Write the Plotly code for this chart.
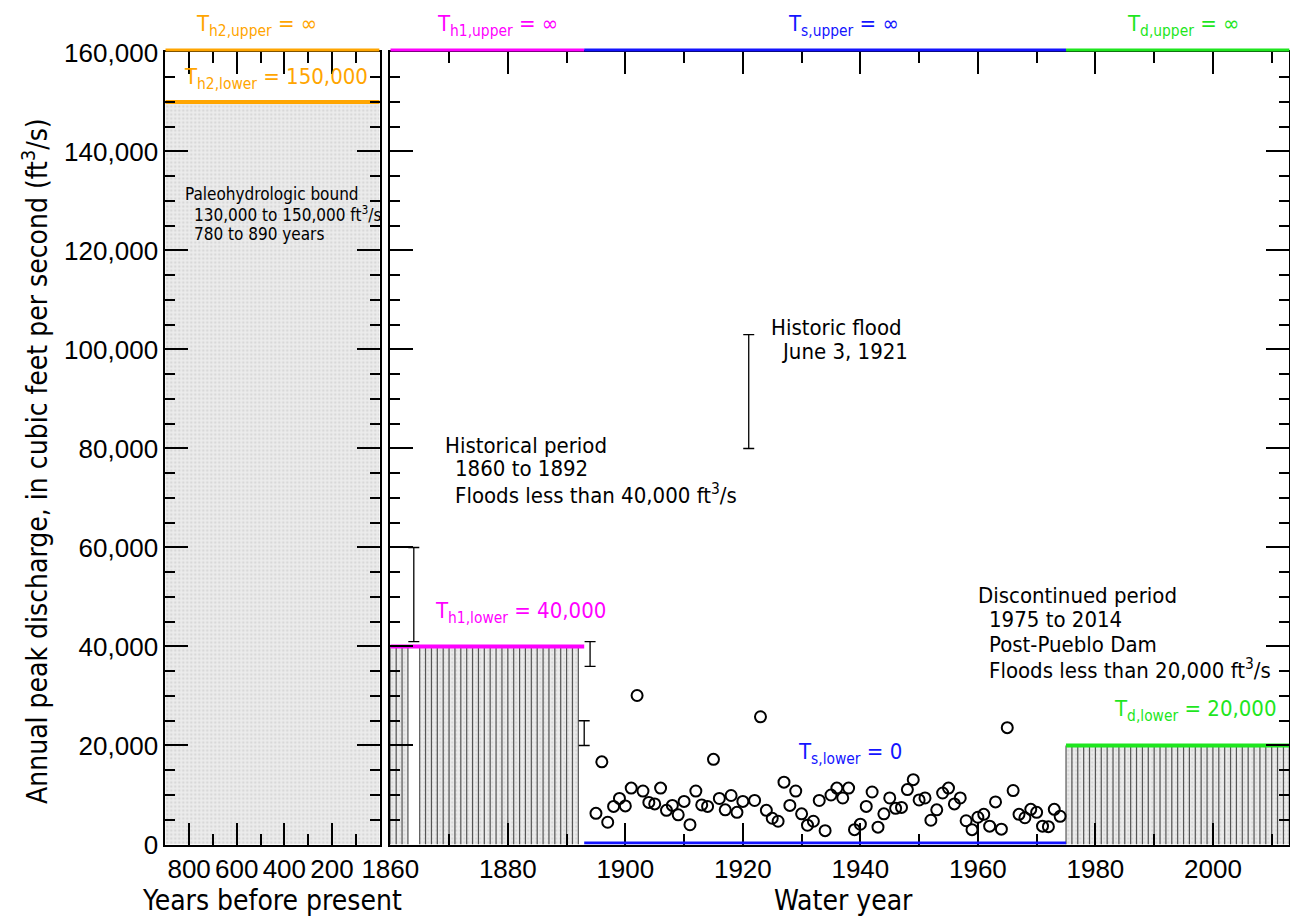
import plotly.graph_objects as go

# ---------------------------------------------------------------- data
# Systematic record, annual peak discharge (ft3/s), water years 1895-1974
systematic_years = [y for y in range(1895, 1975) if y != 1921]
systematic_peaks = [
    6300, 16700, 4500, 7700, 9300, 7800, 11400, 30100, 10800, 8500,      # 1895-1904
    8200, 11400, 6900, 7900, 6000, 8700, 4000, 10800, 8000, 7700,        # 1905-1914
    17200, 9300, 7000, 9900, 6500, 8700,                                 # 1915-1920
    8900, 25800, 6900, 5300, 4700, 12600, 7900, 10800,                   # 1922-1929
    6200, 3900, 4700, 8900, 2800, 10000, 11400, 9400, 11400, 3000,       # 1930-1939
    4100, 7700, 10600, 3500, 6200, 9400, 7300, 7500, 11100, 13100,       # 1940-1949
    9000, 9400, 4900, 7000, 10400, 11400, 8200, 9400, 4800, 3000,        # 1950-1959
    5500, 6100, 3700, 8600, 3100, 23600, 10900, 6100, 5400, 7100,        # 1960-1969
    6500, 3700, 3600, 7100, 5700,                                        # 1970-1974
]

# Interval (lower, upper) estimates, ft3/s
interval_years = [1864, 1893, 1894, 1921]
interval_lower = [41000, 20000, 36000, 80000]
interval_upper = [60000, 25000, 41000, 103000]

# Perception thresholds, ft3/s
th2_lower = 150000            # paleohydrologic period
th1_lower = 40000             # historical period 1860-1892
ts_lower = 0                  # systematic period
td_lower = 20000              # discontinued period 1975-2014
y_top = 160000

# Period limits (water year)
historical_span = (1860, 1893)
historical_years = [y for y in range(1860, 1893) if y not in interval_years]
systematic_span = (1893, 1975)
discontinued_span = (1975, 2014)
discontinued_years = list(range(1975, 2015))

paleo_span = (900, 0)         # years before present

# ---------------------------------------------------------------- style
TICK_FONT = "Liberation Sans, Arial, sans-serif"
TEXT_FONT = "DejaVu Sans Condensed, DejaVu Sans, sans-serif"
ORANGE = "#FFA500"
MAGENTA = "#FF00FF"
BLUE = "#1414FF"
GREEN = "#1EE61E"
HATCH = "#555555"
STIPPLE = dict(shape=".", size=4, solidity=0.35, fgcolor="#c4c4c4", bgcolor="#ececec")
YDOM = [0.07906, 0.94275]

fig = go.Figure()


def runs(years):
    """Split a sorted list of years into contiguous runs."""
    out, cur = [], [years[0]]
    for y in years[1:]:
        if y == cur[-1] + 1:
            cur.append(y)
        else:
            out.append(cur)
            cur = [y]
    out.append(cur)
    return out


def censored_block(years, threshold, xa, ya):
    # stippled fill between consecutive censored years
    for r in runs(years):
        fig.add_trace(go.Scatter(
            x=[r[0], r[-1], r[-1], r[0]], y=[0, 0, threshold, threshold],
            fill="toself", fillpattern=STIPPLE, mode="lines",
            line=dict(width=0), xaxis=xa, yaxis=ya, showlegend=False, hoverinfo="skip"))
    # one vertical line per censored year
    xs, ys = [], []
    for y in years:
        xs += [y, y, None]
        ys += [0, threshold, None]
    fig.add_trace(go.Scatter(x=xs, y=ys, mode="lines", line=dict(color=HATCH, width=1.2),
                             xaxis=xa, yaxis=ya, showlegend=False, hoverinfo="skip"))


# paleohydrologic panel fill
fig.add_trace(go.Scatter(
    x=[paleo_span[0], paleo_span[1], paleo_span[1], paleo_span[0]],
    y=[0, 0, th2_lower, th2_lower], fill="toself", fillpattern=STIPPLE,
    mode="lines", line=dict(width=0), xaxis="x", yaxis="y",
    showlegend=False, hoverinfo="skip"))

# historical and discontinued censored years
censored_block(historical_years, th1_lower, "x2", "y2")
censored_block(discontinued_years, td_lower, "x2", "y2")

# lower thresholds
fig.add_trace(go.Scatter(x=list(paleo_span), y=[th2_lower, th2_lower], mode="lines",
                         line=dict(color=ORANGE, width=4), xaxis="x", yaxis="y",
                         showlegend=False, hoverinfo="skip"))
fig.add_trace(go.Scatter(x=list(historical_span), y=[th1_lower, th1_lower], mode="lines",
                         line=dict(color=MAGENTA, width=4), xaxis="x2", yaxis="y2",
                         showlegend=False, hoverinfo="skip"))
fig.add_trace(go.Scatter(x=list(discontinued_span), y=[td_lower, td_lower], mode="lines",
                         line=dict(color=GREEN, width=4), xaxis="x2", yaxis="y2",
                         showlegend=False, hoverinfo="skip"))


# upper thresholds (infinite) run just above the top frame
def top_line(xref, x0, x1, color):
    fig.add_shape(type="line", xref=xref, yref="paper", x0=x0, x1=x1,
                  ysizemode="pixel", yanchor=YDOM[1], y0=2.5, y1=2.5,
                  line=dict(color=color, width=3), layer="above")


top_line("x", paleo_span[0], paleo_span[1], ORANGE)
top_line("x2", historical_span[0], historical_span[1], MAGENTA)
top_line("x2", systematic_span[0], systematic_span[1], BLUE)
top_line("x2", discontinued_span[0], discontinued_span[1], GREEN)

# Ts,lower along the bottom frame
fig.add_shape(type="line", xref="x2", yref="y2", x0=systematic_span[0], x1=systematic_span[1],
              ysizemode="pixel", yanchor=ts_lower, y0=1.5, y1=1.5,
              line=dict(color=BLUE, width=3), layer="above")

# interval estimates
mid = [(lo + hi) / 2 for lo, hi in zip(interval_lower, interval_upper)]
fig.add_trace(go.Scatter(
    x=interval_years, y=mid, mode="markers", marker=dict(size=1, opacity=0),
    error_y=dict(type="data", symmetric=False,
                 array=[hi - m for hi, m in zip(interval_upper, mid)],
                 arrayminus=[m - lo for lo, m in zip(interval_lower, mid)],
                 width=5.5, thickness=1.3, color="black"),
    xaxis="x2", yaxis="y2", showlegend=False, hoverinfo="skip"))

# systematic peaks
fig.add_trace(go.Scatter(
    x=systematic_years, y=systematic_peaks, mode="markers",
    marker=dict(symbol="circle-open", size=11, color="black", line=dict(width=2)),
    xaxis="x2", yaxis="y2", showlegend=False, cliponaxis=False))


# ---------------------------------------------------------------- text
def note(text, x, y, xref, yref, size=22, color="black"):
    fig.add_annotation(text=text, x=x, y=y, xref=xref, yref=yref,
                       xanchor="left", yanchor="middle", showarrow=False,
                       font=dict(family=TEXT_FONT, size=size, color=color))


FT3 = "ft<sup>3</sup>/s"
ABOVE = 1.0347  # label height above the top frame, in axis-domain units
TS = 22         # threshold label size

# threshold labels
note("T<sub>h2,upper</sub> = ∞", 778, ABOVE, "x", "y domain", TS, ORANGE)
note("T<sub>h2,lower</sub> = 150,000", 831, 154800, "x", "y", TS, ORANGE)
note("T<sub>h1,upper</sub> = ∞", 1867.6, ABOVE, "x2", "y2 domain", TS, MAGENTA)
note("T<sub>s,upper</sub> = ∞", 1927.3, ABOVE, "x2", "y2 domain", TS, BLUE)
note("T<sub>d,upper</sub> = ∞", 1985.0, ABOVE, "x2", "y2 domain", TS, GREEN)
note("T<sub>h1,lower</sub> = 40,000", 1867.3, 46800, "x2", "y2", TS, MAGENTA)
note("T<sub>s,lower</sub> = 0", 1929.0, 18300, "x2", "y2", TS, BLUE)
note("T<sub>d,lower</sub> = 20,000", 1982.9, 27000, "x2", "y2", TS, GREEN)

# period descriptions
note("Paleohydrologic bound", 827, 131400, "x", "y", 17)
note("130,000 to 150,000 " + FT3, 789, 127400, "x", "y", 17)
note("780 to 890 years", 789, 123400, "x", "y", 17)

note("Historic flood", 1924.5, 104500, "x2", "y2")
note("June 3, 1921", 1926.15, 99500, "x2", "y2")

note("Historical period", 1868.9, 80650, "x2", "y2")
note("1860 to 1892", 1870.7, 75900, "x2", "y2")
note("Floods less than 40,000 " + FT3, 1870.7, 70870, "x2", "y2")

note("Discontinued period", 1959.7, 50400, "x2", "y2")
note("1975 to 2014", 1961.5, 45450, "x2", "y2")
note("Post-Pueblo Dam", 1961.5, 40500, "x2", "y2")
note("Floods less than 20,000 " + FT3, 1961.5, 35520, "x2", "y2")

# axis titles
title_font = dict(family=TEXT_FONT, size=28, color="black")
fig.add_annotation(text="Annual peak discharge, in cubic feet per second (" + FT3 + ")",
                   x=0.0279, y=0.4973, xref="paper", yref="paper", textangle=-90,
                   showarrow=False, xanchor="center", yanchor="middle", font=title_font)
fig.add_annotation(text="Years before present", x=0.2109, y=0.0175, xref="paper", yref="paper",
                   showarrow=False, xanchor="center", yanchor="middle", font=title_font)
fig.add_annotation(text="Water year", x=0.6535, y=0.0175, xref="paper", yref="paper",
                   showarrow=False, xanchor="center", yanchor="middle", font=title_font)

# ---------------------------------------------------------------- axes
frame = dict(showline=True, linewidth=2, linecolor="black", mirror="allticks",
             ticks="inside", tickwidth=1.5, tickcolor="black", showgrid=False,
             zeroline=False, automargin=False, tickangle=0,
             tickfont=dict(family=TICK_FONT, size=26, color="black"))
minor_x = dict(ticklen=11, ticks="inside", tickwidth=1.5, tickcolor="black", showgrid=False)
minor_y = dict(dtick=5000, ticklen=10, ticks="inside", tickwidth=1.5, tickcolor="black",
               showgrid=False)

fig.update_layout(
    width=1290, height=917, autosize=False,
    margin=dict(l=0, r=0, t=0, b=0),
    paper_bgcolor="white", plot_bgcolor="white",
    xaxis=dict(domain=[0.12814, 0.29426], range=[900, 0], anchor="y",
               tickvals=[800, 600, 400, 200], ticklen=22,
               minor=dict(tickvals=[700, 500, 300, 100], **minor_x), **frame),
    yaxis=dict(domain=YDOM, range=[0, y_top], anchor="x", dtick=20000, tickformat=",",
               ticklen=23, minor=minor_y, **frame),
    xaxis2=dict(domain=[0.30256, 0.99946], range=[1860, 2013], anchor="y2",
                tickvals=[1860, 1880, 1900, 1920, 1940, 1960, 1980, 2000], ticklen=22,
                minor=dict(tickvals=[1870, 1890, 1910, 1930, 1950, 1970, 1990, 2010],
                           **minor_x),
                **frame),
    yaxis2=dict(domain=YDOM, range=[0, y_top], anchor="x2", dtick=20000,
                showticklabels=False, ticklen=23, minor=minor_y, **frame),
)

fig.write_html("out.html")
